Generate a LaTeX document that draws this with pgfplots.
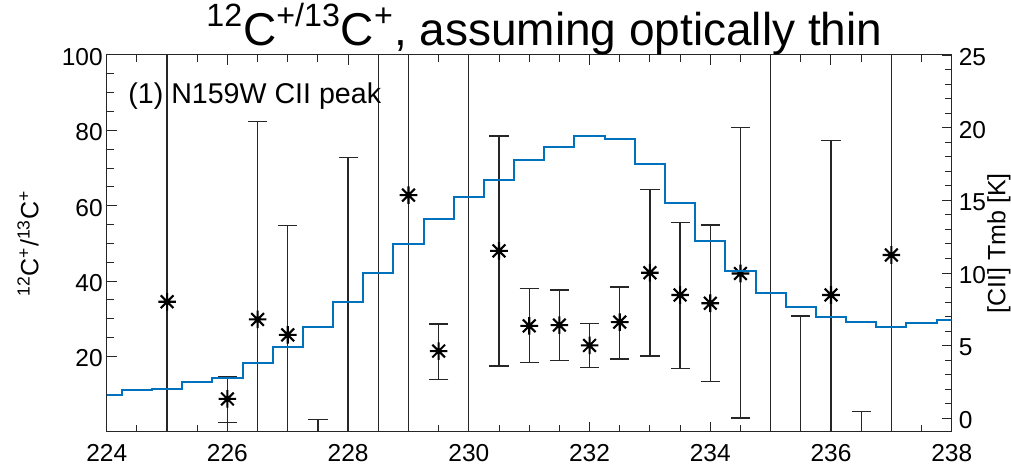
\documentclass[border=0pt]{standalone}
\usepackage{fontspec}
\setmainfont{Liberation Sans}
\usepackage{pgfplots}
\pgfplotsset{compat=1.18}
\definecolor{mblue}{RGB}{0,114,189}
\definecolor{axgray}{RGB}{38,38,38}
\pgfdeclareplotmark{ast8}{%
  \pgfpathmoveto{\pgfqpoint{0pt}{-\pgfplotmarksize}}\pgfpathlineto{\pgfqpoint{0pt}{\pgfplotmarksize}}%
  \pgfpathmoveto{\pgfqpoint{-\pgfplotmarksize}{0pt}}\pgfpathlineto{\pgfqpoint{\pgfplotmarksize}{0pt}}%
  \pgfpathmoveto{\pgfqpoint{-0.72\pgfplotmarksize}{-0.72\pgfplotmarksize}}\pgfpathlineto{\pgfqpoint{0.72\pgfplotmarksize}{0.72\pgfplotmarksize}}%
  \pgfpathmoveto{\pgfqpoint{-0.72\pgfplotmarksize}{0.72\pgfplotmarksize}}\pgfpathlineto{\pgfqpoint{0.72\pgfplotmarksize}{-0.72\pgfplotmarksize}}%
  \pgfusepathqstroke}
\begin{document}
\begin{tikzpicture}
\pgfplotsset{
  common/.style={
    scale only axis, width=422.5pt, height=188.35pt,
    at={(53.35pt,17.65pt)}, anchor=south west,
    xmin=224, xmax=238,
    tick align=inside,
    axis line style={axgray, line width=0.5pt},
    every tick/.style={axgray, line width=0.5pt},
    major tick length=5pt, minor tick length=3.5pt,
    tick label style={font=\fontsize{12.25pt}{14pt}\selectfont, text=black},
    /pgf/number format/assume math mode=true,
    /pgf/number format/1000 sep={},
    label style={font=\fontsize{12.5pt}{14pt}\selectfont},
  }
}
\begin{axis}[common,
  ymin=0, ymax=100,
  xtick={224,226,...,238}, minor x tick num=3,
  ytick={20,40,60,80,100}, minor y tick num=3,
  xtick pos=both, ytick pos=left,
  xticklabel style={yshift=-3pt},
  yticklabel style={xshift=1.5pt, yshift=-1pt},
  ylabel={\textsuperscript{12}C\textsuperscript{+}/\textsuperscript{13}C\textsuperscript{+}},
  ylabel style={at={(axis description cs:-0.0931,0.5)}, anchor=center},
  every axis title shift=0pt,
  title={\fontsize{23pt}{27pt}\selectfont \textsuperscript{12}C\textsuperscript{+/13}C\textsuperscript{+}, assuming optically thin},
  title style={at={(axis description cs:0.1175,1.0265)}, anchor=base west, inner sep=0pt},
]
% error bars
\addplot[draw=none, mark=none, forget plot,
  error bars/.cd, y dir=both, y explicit,
  error bar style={draw=axgray, line width=0.65pt},
  error mark options={draw=axgray, line width=0.65pt, mark size=4.8pt, rotate=90}]
coordinates {
(225,34.5) += (0,200) -= (0,200)
(226,8.7) += (0,5.9) -= (0,6.2)
(226.5,29.8) += (0,52.5) -= (0,100)
(227,25.7) += (0,29.0) -= (0,100)
(227.5,-20) += (0,23.2) -= (0,100)
(228,-20) += (0,92.7) -= (0,100)
(228.5,50) += (0,300) -= (0,300)
(229,62.8) += (0,300) -= (0,300)
(229.5,21.4) += (0,7.2) -= (0,7.5)
(230,50) += (0,300) -= (0,300)
(230.5,48.0) += (0,30.5) -= (0,30.6)
(231,28.1) += (0,9.9) -= (0,9.8)
(231.5,28.3) += (0,9.3) -= (0,9.4)
(232,22.9) += (0,5.9) -= (0,5.9)
(232.5,29.1) += (0,9.3) -= (0,9.8)
(233,42.2) += (0,22.1) -= (0,22.1)
(233.5,36.3) += (0,19.3) -= (0,19.5)
(234,34.1) += (0,20.8) -= (0,20.8)
(234.5,42.0) += (0,38.8) -= (0,38.4)
(235,50) += (0,300) -= (0,300)
(235.5,-20) += (0,50.7) -= (0,100)
(236,36.3) += (0,41) -= (0,100)
(236.5,-20) += (0,25.3) -= (0,100)
(237,46.9) += (0,300) -= (0,300)
};
% stars
\addplot[only marks, mark=ast8, mark size=4.4pt, mark options={black, line width=1.05pt}]
coordinates {
(225,34.5) (226,8.7) (226.5,29.8) (227,25.7) (229,62.8) (229.5,21.4)
(230.5,48.0) (231,28.1) (231.5,28.3) (232,22.9) (232.5,29.1) (233,42.2)
(233.5,36.3) (234,34.1) (234.5,42.0) (236,36.3) (237,46.9)
};
\node[anchor=base west, inner sep=0pt, font=\fontsize{14.3pt}{16pt}\selectfont]
  at (axis description cs:0.0252,0.872) {(1) N159W CII peak};
\end{axis}
\begin{axis}[common,
  ymin=-0.92, ymax=25,
  hide x axis,
  axis y line*=right,
  ytick={0,5,...,25}, minor y tick num=4,
  yticklabel style={yshift=-1pt},
  ylabel={[CII] Tmb [K]},
  ylabel style={at={(axis description cs:1.056,0.5)}, anchor=center, rotate=0},
]
\addplot[const plot mark mid, mblue, line width=1pt] coordinates {
(224.0,1.6) (224.5,1.95) (225.0,2.0) (225.5,2.5) (226.0,2.8) (226.5,3.8)
(227.0,4.9) (227.5,6.3) (228.0,8.0) (228.5,10.0) (229.0,12.0) (229.5,13.7)
(230.0,15.2) (230.5,16.4) (231.0,17.8) (231.5,18.7) (232.0,19.4) (232.5,19.2)
(233.0,17.5) (233.5,14.85) (234.0,12.2) (234.5,10.15) (235.0,8.65) (235.5,7.67)
(236.0,7.0) (236.5,6.6) (237.0,6.3) (237.5,6.57) (238.0,6.75)
};
\end{axis}
\pgfresetboundingbox
\path[use as bounding box] (0,0) rectangle (505.5pt,233.5pt);
\end{tikzpicture}
\end{document}
